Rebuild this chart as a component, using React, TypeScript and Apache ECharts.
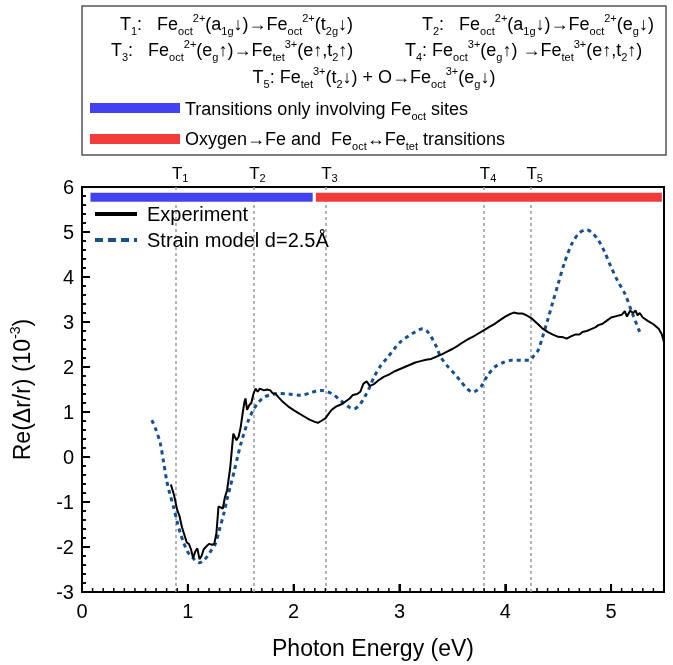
import React, { useEffect, useRef } from 'react';
import * as echarts from 'echarts';

const FONT = 'Liberation Sans';

const experimentEnergy = [0.84,0.87,0.9,0.92,0.945,0.97,0.99,1.01,1.03,1.05,1.07,1.09,1.11,1.13,1.15,1.17,1.2,1.23,1.25,1.27,1.29,1.31,1.33,1.35,1.37,1.4,1.43,1.46,1.48,1.5,1.52,1.535,1.545,1.56,1.58,1.6,1.62,1.64,1.66,1.68,1.72,1.75,1.78,1.8,1.83,1.86,1.9,1.95,2.0,2.05,2.1,2.15,2.2,2.23,2.26,2.3,2.33,2.36,2.4,2.43,2.46,2.5,2.53,2.56,2.6,2.63,2.66,2.69,2.72,2.76,2.8,2.85,2.9,2.95,3.0,3.05,3.1,3.15,3.2,3.25,3.3,3.35,3.4,3.45,3.5,3.55,3.6,3.65,3.7,3.75,3.8,3.85,3.9,3.95,4.0,4.05,4.08,4.12,4.16,4.2,4.25,4.3,4.35,4.4,4.45,4.5,4.55,4.58,4.62,4.66,4.7,4.73,4.77,4.8,4.85,4.88,4.92,4.96,5.0,5.05,5.1,5.13,5.15,5.18,5.21,5.23,5.25,5.27,5.3,5.35,5.4,5.45,5.48,5.5];
const experimentValue = [-0.61,-0.85,-1.18,-1.3,-1.56,-1.75,-1.9,-1.93,-2.05,-2.25,-2.1,-2.03,-2.27,-2.2,-2.05,-2.0,-1.93,-1.95,-1.93,-1.7,-1.1,-1.12,-1.15,-0.9,-0.75,-0.25,0.52,0.37,0.45,0.67,1.0,1.22,1.3,1.05,1.15,1.2,1.4,1.52,1.45,1.52,1.48,1.5,1.48,1.42,1.4,1.32,1.22,1.12,1.04,0.97,0.9,0.83,0.78,0.76,0.8,0.86,0.96,1.05,1.12,1.15,1.18,1.25,1.3,1.38,1.4,1.45,1.63,1.68,1.58,1.62,1.7,1.78,1.83,1.9,1.95,2.0,2.05,2.1,2.13,2.16,2.18,2.23,2.28,2.34,2.4,2.47,2.55,2.62,2.68,2.75,2.82,2.89,2.96,3.04,3.12,3.18,3.21,3.19,3.19,3.15,3.08,2.97,2.86,2.78,2.72,2.67,2.66,2.63,2.68,2.72,2.72,2.78,2.8,2.83,2.88,2.93,2.96,3.03,3.1,3.13,3.16,3.24,3.12,3.25,3.2,3.26,3.15,3.2,3.1,3.02,2.95,2.85,2.72,2.55];

const modelEnergy = [0.66,0.7,0.74,0.77,0.8,0.83,0.865,0.9,0.93,0.96,0.99,1.02,1.055,1.08,1.11,1.14,1.18,1.22,1.26,1.3,1.34,1.37,1.4,1.44,1.47,1.5,1.53,1.57,1.62,1.67,1.72,1.78,1.845,1.95,2.07,2.15,2.22,2.26,2.32,2.38,2.43,2.48,2.53,2.57,2.62,2.67,2.72,2.76,2.82,2.89,2.95,3.01,3.08,3.15,3.22,3.26,3.3,3.35,3.39,3.45,3.52,3.58,3.64,3.69,3.73,3.77,3.83,3.9,3.98,4.06,4.15,4.23,4.27,4.31,4.35,4.4,4.45,4.5,4.56,4.63,4.7,4.77,4.82,4.88,4.94,5.0,5.06,5.13,5.2,5.27];
const modelValue = [0.82,0.6,0.3,-0.1,-0.52,-0.82,-1.11,-1.45,-1.7,-1.9,-2.07,-2.18,-2.26,-2.32,-2.35,-2.32,-2.22,-2.08,-1.93,-1.6,-1.26,-0.95,-0.67,-0.3,0.0,0.28,0.52,0.8,1.05,1.22,1.33,1.38,1.41,1.4,1.37,1.42,1.47,1.48,1.45,1.38,1.28,1.19,1.1,1.07,1.15,1.33,1.56,1.78,2.02,2.22,2.4,2.56,2.68,2.78,2.85,2.8,2.67,2.45,2.22,2.03,1.85,1.68,1.52,1.44,1.48,1.56,1.8,2.0,2.1,2.15,2.15,2.15,2.25,2.37,2.65,3.04,3.45,3.85,4.32,4.74,4.98,5.05,4.98,4.82,4.55,4.22,3.92,3.63,3.2,2.78];

const transitionEnergy = [0.89, 1.62, 2.3, 3.8, 4.24];
const transitionIndex = ['1', '2', '3', '4', '5'];

const octBarRange = [0.08, 2.18];
const mixedBarRange = [2.21, 5.48];
const barLevel = 5.77;

const xRange = [0, 5.5];
const yRange = [-3, 6];
const xMajorTicks = [0, 1, 2, 3, 4, 5];
const yMajorTicks = [-3, -2, -1, 0, 1, 2, 3, 4, 5, 6];
const xMinorStep = 0.1;
const yMinorStep = 0.2;
const xTickLabels = ['0', '1', '2', '3', '4', '5'];

const seriesNames = ['Experiment', 'Strain model d=2.5Å'];

const boxLines = [
  { x: 120, y: 12, align: 'left', text: 'T{s|1}:   Fe{s|oct}{p|2+}(a{s|1g}↓)→Fe{s|oct}{p|2+}(t{s|2g}↓)' },
  { x: 422, y: 12, align: 'left', text: 'T{s|2}:   Fe{s|oct}{p|2+}(a{s|1g}↓)→Fe{s|oct}{p|2+}(e{s|g}↓)' },
  { x: 111, y: 38, align: 'left', text: 'T{s|3}:   Fe{s|oct}{p|2+}(e{s|g}↑)→Fe{s|tet}{p|3+}(e↑,t{s|2}↑)' },
  { x: 405, y: 38, align: 'left', text: 'T{s|4}: Fe{s|oct}{p|3+}(e{s|g}↑) →Fe{s|tet}{p|3+}(e↑,t{s|2}↑)' },
  { x: 374, y: 65, align: 'center', text: 'T{s|5}: Fe{s|tet}{p|3+}(t{s|2}↓) + O→Fe{s|oct}{p|3+}(e{s|g}↓)' },
  { x: 185, y: 97, align: 'left', text: 'Transitions only involving Fe{s|oct} sites' },
  { x: 185, y: 127, align: 'left', text: 'Oxygen→Fe and  Fe{s|oct}↔Fe{s|tet} transitions' },
];

const BLUE = '#4242f0';
const RED = '#f23b3b';
const MODEL = '#17508e';

function zip(a: number[], b: number[]) {
  return a.map((v, i) => [v, b[i]]);
}

// tick table: [value, kind]  kind 0 = x major, 1 = x minor, 2 = y major, 3 = y minor, 4 = right frame
function buildTicks() {
  const out: number[][] = [];
  xMajorTicks.forEach((v) => out.push([v, 0]));
  for (let i = 1; xRange[0] + i * xMinorStep < xRange[1] - 1e-9; i++) {
    const v = Math.round((xRange[0] + i * xMinorStep) * 1000) / 1000;
    if (Math.abs(v - Math.round(v)) > 1e-6) out.push([v, 1]);
  }
  yMajorTicks.forEach((v) => out.push([v, 2]));
  for (let i = 1; yRange[0] + i * yMinorStep < yRange[1] - 1e-9; i++) {
    const v = Math.round((yRange[0] + i * yMinorStep) * 1000) / 1000;
    if (Math.abs(v - Math.round(v)) > 1e-6) out.push([v, 3]);
  }
  out.push([xRange[1], 4]);
  return out;
}

export default function App() {
  const ref = useRef<HTMLDivElement>(null);
  useEffect(() => {
    if (!ref.current) return;
    const chart = echarts.init(ref.current, undefined, { renderer: 'svg' });
    const richBox = {
      s: { fontSize: 11, lineHeight: 9, verticalAlign: 'bottom', fontFamily: FONT, fill: '#000', color: '#000' },
      p: { fontSize: 11, lineHeight: 18, verticalAlign: 'top', fontFamily: FONT, fill: '#000', color: '#000' },
    };
    const textEls = boxLines.map((l) => ({
      type: 'text',
      x: l.x,
      y: l.y,
      style: {
        text: l.text,
        fontSize: 18,
        fontFamily: FONT,
        lineHeight: 24,
        fill: '#000',
        align: l.align,
        textAlign: l.align,
        verticalAlign: 'top',
        textVerticalAlign: 'top',
        rich: richBox,
      },
    }));
    const ticks = buildTicks();
    const option: any = {
      animation: false,
      grid: {
        left: 82,
        right: 9,
        top: 187,
        bottom: 73,
        show: true,
        borderColor: '#000',
        borderWidth: 2,
        backgroundColor: 'transparent',
      },
      legend: {
        orient: 'vertical',
        left: 88,
        top: 199,
        itemWidth: 42,
        itemHeight: 14,
        itemGap: 6,
        textStyle: { fontSize: 20, color: '#000', fontFamily: FONT, padding: [0, 0, 0, 5] },
        data: [
          { name: seriesNames[0], lineStyle: { width: 4 }, itemStyle: { opacity: 0 } },
          { name: seriesNames[1], lineStyle: { width: 4, type: [8, 5] }, itemStyle: { opacity: 0 } },
        ],
      },
      xAxis: {
        type: 'value',
        min: xRange[0],
        max: xRange[1],
        interval: 1,
        axisLine: { show: true, onZero: false, lineStyle: { color: '#000', width: 2 } },
        axisTick: { show: true, inside: true, length: 8, lineStyle: { color: '#000', width: 2 } },
        axisLabel: {
          fontSize: 20,
          color: '#000',
          fontFamily: FONT,
          margin: 9,
          formatter: (v: number) => (Math.abs(v - Math.round(v)) < 1e-6 ? xTickLabels[Math.round(v)] ?? '' : ''),
        },
        splitLine: { show: false },
        name: 'Photon Energy (eV)',
        nameLocation: 'middle',
        nameGap: 44,
        nameTextStyle: { fontSize: 23, color: '#000', fontFamily: FONT },
      },
      yAxis: {
        type: 'value',
        min: yRange[0],
        max: yRange[1],
        interval: 1,
        axisLine: { show: true, onZero: false, lineStyle: { color: '#000', width: 2 } },
        axisTick: { show: true, inside: true, length: 8, lineStyle: { color: '#000', width: 2 } },
        minorTick: { show: true, splitNumber: 5, length: 4, lineStyle: { color: '#000', width: 1.5 } },
        axisLabel: { fontSize: 20, color: '#000', fontFamily: FONT, margin: 8 },
        splitLine: { show: false },
        minorSplitLine: { show: false },
        name: 'Re(Δr/r) (10{sup|-3})',
        nameLocation: 'middle',
        nameGap: 46,
        nameTextStyle: {
          fontSize: 23,
          color: '#000',
          fontFamily: FONT,
          lineHeight: 28,
          rich: {
            sup: { fontSize: 14, lineHeight: 16, verticalAlign: 'top', color: '#000', fontFamily: FONT },
          },
        },
      },
      graphic: [
        {
          type: 'rect',
          shape: { x: 82, y: 6, width: 584, height: 149 },
          style: { fill: 'none', stroke: '#555', lineWidth: 1.5 },
        },
        {
          type: 'rect',
          shape: { x: 90, y: 103, width: 90, height: 10 },
          style: { fill: BLUE },
        },
        {
          type: 'rect',
          shape: { x: 90, y: 134, width: 90, height: 10 },
          style: { fill: RED },
        },
        ...textEls,
      ],
      series: [
        {
          name: 'octBar',
          type: 'line',
          data: zip(octBarRange, [barLevel, barLevel]),
          symbol: 'none',
          silent: true,
          lineStyle: { color: BLUE, width: 9, cap: 'butt' },
          z: 4,
          markLine: {
            silent: true,
            symbol: ['none', 'none'],
            lineStyle: { color: '#9a9a9a', type: [3, 3], width: 1.5 },
            label: {
              show: true,
              position: 'end',
              distance: 4,
              color: '#000',
              fontSize: 17,
              fontFamily: FONT,
              lineHeight: 20,
              padding: [0, 0, 0, 8],
              formatter: (p: any) => 'T{s|' + p.name + '}',
              rich: {
                s: { fontSize: 11, lineHeight: 8, verticalAlign: 'bottom', color: '#000', fontFamily: FONT },
              },
            },
            data: transitionEnergy.map((x, i) => ({ xAxis: x, name: transitionIndex[i] })),
            z: 1,
          },
        },
        {
          name: 'mixedBar',
          type: 'line',
          data: zip(mixedBarRange, [barLevel, barLevel]),
          symbol: 'none',
          silent: true,
          lineStyle: { color: RED, width: 9, cap: 'butt' },
          z: 4,
        },
        {
          name: seriesNames[0],
          type: 'line',
          data: zip(experimentEnergy, experimentValue),
          symbol: 'none',
          showSymbol: false,
          color: '#000',
          lineStyle: { color: '#000', width: 2 },
          z: 6,
        },
        {
          name: seriesNames[1],
          type: 'line',
          data: zip(modelEnergy, modelValue),
          symbol: 'none',
          showSymbol: false,
          smooth: 0.3,
          color: MODEL,
          lineStyle: { color: MODEL, width: 3, type: [4, 4] },
          z: 5,
        },
        {
          name: 'axisTicks',
          type: 'custom',
          silent: true,
          clip: false,
          z: 7,
          data: ticks,
          renderItem: (params: any, api: any) => {
            const v = api.value(0);
            const kind = api.value(1);
            const major = kind === 0 || kind === 2;
            const len = major ? 8 : 4;
            const lw = major ? 2 : 1.5;
            if (kind === 4) {
              const pTop = api.coord([v, yRange[1]]);
              const pBot = api.coord([v, yRange[0]]);
              return {
                type: 'rect',
                shape: { x: pTop[0] - 1, y: pTop[1] - 1, width: 2, height: pBot[1] - pTop[1] + 2 },
                style: { fill: '#000' },
              };
            }
            if (kind === 0 || kind === 1) {
              const p = api.coord([v, yRange[0]]);
              return {
                type: 'rect',
                shape: { x: p[0] - lw / 2, y: p[1] - len, width: lw, height: len },
                style: { fill: '#000' },
              };
            }
            const p = api.coord([xRange[0], v]);
            return {
              type: 'rect',
              shape: { x: p[0], y: p[1] - lw / 2, width: len, height: lw },
              style: { fill: '#000' },
            };
          },
        },
      ],
    };
    chart.setOption(option);
    return () => chart.dispose();
  }, []);
  return <div ref={ref} style={{ position: 'fixed', left: 0, top: 0, width: 673, height: 665 }} />;
}
